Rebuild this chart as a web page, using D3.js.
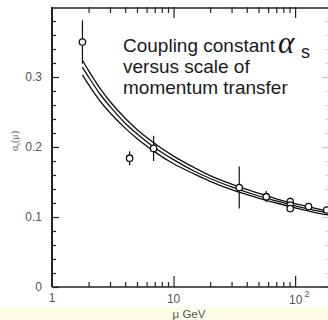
<!DOCTYPE html>
<html>
<head>
<meta charset="utf-8">
<script src="https://cdn.jsdelivr.net/npm/d3@7"></script>
<style>
  body { margin: 0; background: #fff; }
  svg { display: block; }
  text { font-family: "Liberation Sans", Arial, sans-serif; }
</style>
</head>
<body>
<script>
// measured points (mu in GeV, alpha_s, error)
var pointMu    = [1.78, 4.35, 6.85, 34.7, 57.9, 91.2, 91.2, 91.2, 129, 182];
var pointAlpha = [0.350, 0.184, 0.198, 0.142, 0.129, 0.122, 0.117, 0.112, 0.115, 0.110];
var pointErr   = [0.031, 0.010, 0.018, 0.030, 0.008, 0.006, 0.005, 0.005, 0.004, 0.004];

// three theory curves
var curveMu    = [1.78, 2, 2.5, 3, 4, 5, 7, 10, 15, 20, 30, 50, 70, 100, 150, 200];
var curveUpper = [0.324, 0.309, 0.283, 0.265, 0.241, 0.225, 0.205, 0.187, 0.170, 0.159, 0.147, 0.134, 0.126, 0.119, 0.112, 0.107];
var curveMid   = [0.314, 0.300, 0.275, 0.258, 0.234, 0.219, 0.199, 0.182, 0.165, 0.155, 0.143, 0.130, 0.123, 0.116, 0.109, 0.105];
var curveLower = [0.303, 0.289, 0.265, 0.249, 0.227, 0.212, 0.193, 0.176, 0.161, 0.151, 0.139, 0.127, 0.120, 0.113, 0.106, 0.102];

// ticks
var xMajor = [10, 100];
var xMinor = [2, 3, 4, 5, 6, 7, 8, 9, 20, 30, 40, 50, 60, 70, 80, 90];
var yMajor = [0, 0.1, 0.2, 0.3];
var yMinor = [0.02, 0.04, 0.06, 0.08, 0.12, 0.14, 0.16, 0.18, 0.22, 0.24, 0.26, 0.28, 0.32, 0.34, 0.36, 0.38];

var W = 328, H = 320;
var pad = {left: 52, right: 329, top: 7, bottom: 287};

var svg = d3.select('body').append('svg')
  .attr('width', W)
  .attr('height', H);

// faint tinted strip at the bottom of the scan
svg.append('rect')
  .attr('x', 0).attr('y', 307).attr('width', W).attr('height', H - 307)
  .style('fill', '#fcfce9');

var x = d3.scaleLog().domain([1, 190]).range([pad.left, pad.right]);
var y = d3.scaleLinear().domain([0, 0.4]).range([pad.bottom, pad.top]);

svg.append('clipPath').attr('id', 'plot')
  .append('rect')
  .attr('x', pad.left).attr('y', pad.top)
  .attr('width', pad.right - pad.left).attr('height', pad.bottom - pad.top);

// Axes
function cleanAxis(g, color) {
  g.select('.domain').remove();
  g.selectAll('.tick line').style('stroke', color || '#222').style('stroke-width', 1.2);
  g.selectAll('.tick text').remove();
}

// bottom
svg.append('g').attr('transform', 'translate(0,' + pad.bottom + ')')
  .call(d3.axisBottom(x).tickValues(xMajor).tickSize(-11)).call(cleanAxis);
svg.append('g').attr('transform', 'translate(0,' + pad.bottom + ')')
  .call(d3.axisBottom(x).tickValues(xMinor).tickSize(-5)).call(cleanAxis);
// top
svg.append('g').attr('transform', 'translate(0,' + pad.top + ')')
  .call(d3.axisTop(x).tickValues(xMajor).tickSize(-11)).call(cleanAxis);
svg.append('g').attr('transform', 'translate(0,' + pad.top + ')')
  .call(d3.axisTop(x).tickValues(xMinor).tickSize(-6)).call(cleanAxis);
// left
svg.append('g').attr('transform', 'translate(' + pad.left + ',0)')
  .call(d3.axisLeft(y).tickValues(yMajor).tickSize(-7)).call(cleanAxis);
svg.append('g').attr('transform', 'translate(' + pad.left + ',0)')
  .call(d3.axisLeft(y).tickValues(yMinor).tickSize(-4)).call(cleanAxis);
// right (cut off in the scan, only faint ticks show)
svg.append('g').attr('transform', 'translate(' + pad.right + ',0)')
  .call(d3.axisRight(y).tickValues(yMajor).tickSize(-7)).call(function(g){ cleanAxis(g, '#c8c8c8'); });
svg.append('g').attr('transform', 'translate(' + pad.right + ',0)')
  .call(d3.axisRight(y).tickValues(yMinor).tickSize(-4)).call(function(g){ cleanAxis(g, '#d8d8d8'); });

// frame lines
svg.append('line').attr('x1', pad.left).attr('x2', W).attr('y1', pad.bottom).attr('y2', pad.bottom)
  .style('stroke', '#222').style('stroke-width', 1.5);
svg.append('line').attr('x1', pad.left).attr('x2', W).attr('y1', pad.top + 1).attr('y2', pad.top + 1)
  .style('stroke', '#222').style('stroke-width', 1.5);
svg.append('line').attr('x1', pad.left).attr('x2', pad.left).attr('y1', pad.top).attr('y2', pad.bottom)
  .style('stroke', '#222').style('stroke-width', 2);

// Tick labels
svg.selectAll('.ylab')
  .data(yMajor)
  .enter()
  .append('text')
    .attr('x', pad.left - 10)
    .attr('y', function(d){ return y(d); })
    .attr('dy', '0.35em')
    .style('text-anchor', 'end')
    .style('font-size', '12px')
    .style('fill', '#555')
    .text(function(d){ return d3.format('')(d); });

svg.append('text')
  .attr('x', x(1)).attr('y', 302)
  .style('text-anchor', 'middle').style('font-size', '12px').style('fill', '#555')
  .text('1');
svg.append('text')
  .attr('x', x(10)).attr('y', 303)
  .style('text-anchor', 'middle').style('font-size', '12px').style('fill', '#555')
  .text('10');
var hundred = svg.append('text')
  .attr('x', x(100) - 6).attr('y', 304)
  .style('font-size', '12px').style('fill', '#555');
hundred.append('tspan').text('10');
hundred.append('tspan').attr('dx', 2).attr('dy', -7).style('font-size', '9px').text('2');

svg.append('text')
  .attr('x', 189).attr('y', 317.5)
  .style('text-anchor', 'middle').style('font-size', '11.5px').style('fill', '#555')
  .text('\u03bc GeV');

var ylab = svg.append('text')
  .attr('transform', 'translate(18,141) rotate(-90)')
  .style('text-anchor', 'middle').style('font-size', '10px').style('fill', '#666')
  .style('font-family', '"Liberation Serif", serif');
ylab.append('tspan').text('\u03b1');
ylab.append('tspan').attr('dy', 2).style('font-size', '7px').text('s');
ylab.append('tspan').attr('dy', -2).text('(\u03bc)');

// Title block
var title = ['Coupling constant', 'versus scale of', 'momentum transfer'];
svg.selectAll('.title')
  .data(title)
  .enter()
  .append('text')
    .attr('x', 123)
    .attr('y', function(d, i){ return 52 + i * 20.8; })
    .style('font-size', '19px')
    .style('fill', '#1a1a1a')
    .text(function(d){ return d; });
svg.append('text')
  .attr('x', 278).attr('y', 53)
  .style('font-family', '"Liberation Serif", serif')
  .style('font-style', 'italic')
  .style('font-size', '31px')
  .style('fill', '#1a1a1a')
  .text('\u03b1');
svg.append('text')
  .attr('x', 301).attr('y', 58)
  .style('font-size', '18px')
  .style('fill', '#1a1a1a')
  .text('s');

// Curves
var plot = svg.append('g').attr('clip-path', 'url(#plot)');
var line = d3.line()
  .x(function(d){ return x(d[0]); })
  .y(function(d){ return y(d[1]); })
  .curve(d3.curveMonotoneX);

[curveUpper, curveMid, curveLower].forEach(function(c){
  plot.append('path')
    .datum(curveMu.map(function(m, i){ return [m, c[i]]; }))
    .attr('d', line)
    .style('fill', 'none')
    .style('stroke', '#111')
    .style('stroke-width', 1.3);
});

// Data points with error bars
var pts = pointMu.map(function(m, i){ return {mu: m, a: pointAlpha[i], e: pointErr[i]}; });

svg.append('g').selectAll('line')
  .data(pts)
  .enter()
  .append('line')
    .attr('x1', function(d){ return x(d.mu); })
    .attr('x2', function(d){ return x(d.mu); })
    .attr('y1', function(d){ return y(d.a + d.e); })
    .attr('y2', function(d){ return y(d.a - d.e); })
    .style('stroke', '#111')
    .style('stroke-width', 1.2);

svg.append('g').selectAll('circle')
  .data(pts)
  .enter()
  .append('circle')
    .attr('cx', function(d){ return x(d.mu); })
    .attr('cy', function(d){ return y(d.a); })
    .attr('r', 3.2)
    .style('fill', '#fff')
    .style('stroke', '#111')
    .style('stroke-width', 1.3);
</script>
</body>
</html>
